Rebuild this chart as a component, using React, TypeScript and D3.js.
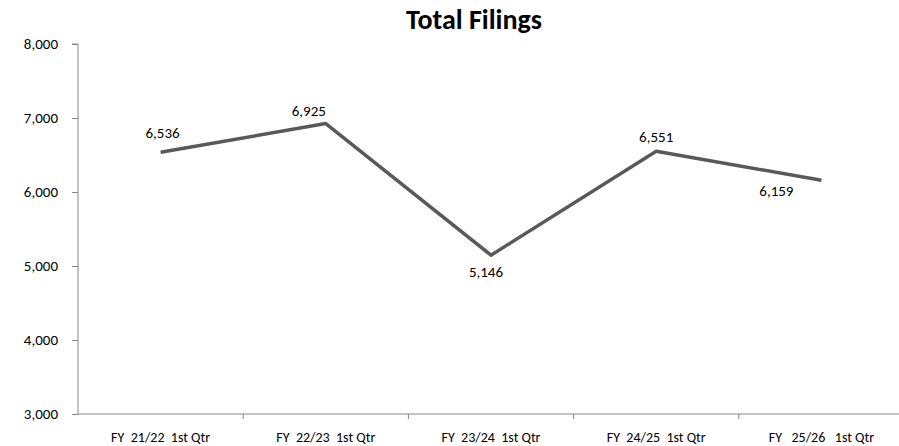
import React, { useEffect, useRef } from "react";
import * as d3 from "d3";

// chart data
const categories = [
  "FY  21/22  1st Qtr",
  "FY  22/23  1st Qtr",
  "FY  23/24  1st Qtr",
  "FY  24/25  1st Qtr",
  "FY   25/26   1st Qtr",
];
const filings = [6536, 6925, 5146, 6551, 6159];
const yTicks = [3000, 4000, 5000, 6000, 7000, 8000];

// where each data label sits relative to its point
const labelPlacement = [
  { dx: 2, dy: -14 },
  { dx: -17, dy: -8 },
  { dx: -5, dy: 22 },
  { dx: 0, dy: -9 },
  { dx: -45, dy: 16 },
];

const App = () => {
  const svgRef = useRef(null);

  useEffect(() => {
    const svg = d3.select(svgRef.current);
    svg.selectAll("*").remove();

    const W = 899;
    const H = 446;
    const left = 78;
    const right = 904;
    const top = 44;
    const bottom = 414;
    const font = "Carlito, 'Liberation Sans', Arial, sans-serif";

    const x = d3.scaleBand().domain(categories).range([left, right]);
    const y = d3.scaleLinear().domain([3000, 8000]).range([bottom, top]);

    svg.attr("width", W).attr("height", H);

    // title
    svg
      .append("text")
      .attr("x", 474)
      .attr("y", 29)
      .attr("text-anchor", "middle")
      .attr("font-family", font)
      .attr("font-weight", "bold")
      .attr("font-size", 28)
      .attr("fill", "#000")
      .text("Total Filings");

    // y axis
    svg
      .append("g")
      .attr("transform", `translate(${left},0)`)
      .call(
        d3
          .axisLeft(y)
          .tickValues(yTicks)
          .tickSize(6)
          .tickPadding(14)
          .tickFormat(d3.format(",")),
      )
      .call((g) => g.select(".domain").attr("stroke", "#888").attr("d", `M-6,${top}H0V${bottom}`))
      .call((g) => g.selectAll(".tick line").attr("stroke", "#888"))
      .call((g) =>
        g
          .selectAll(".tick text")
          .attr("fill", "#000")
          .attr("font-family", font)
          .attr("font-size", 15),
      );

    // x axis
    const tickPositions = categories.map((c) => x(c)).concat([right]);
    const xg = svg.append("g");
    xg.append("line")
      .attr("x1", left)
      .attr("x2", right)
      .attr("y1", bottom)
      .attr("y2", bottom)
      .attr("stroke", "#888");
    xg.selectAll("line.tick")
      .data(tickPositions.slice(1))
      .join("line")
      .attr("class", "tick")
      .attr("x1", (d) => d)
      .attr("x2", (d) => d)
      .attr("y1", bottom)
      .attr("y2", bottom + 5)
      .attr("stroke", "#888");
    xg.selectAll("text")
      .data(categories)
      .join("text")
      .attr("x", (d) => x(d) + x.bandwidth() / 2)
      .attr("y", 442)
      .attr("text-anchor", "middle")
      .attr("font-family", font)
      .attr("font-size", 14)
      .style("white-space", "pre")
      .attr("fill", "#000")
      .text((d) => d);

    // line
    const line = d3
      .line<number>()
      .x((d, i) => x(categories[i]) + x.bandwidth() / 2)
      .y((d) => y(d));

    svg
      .append("path")
      .datum(filings)
      .attr("fill", "none")
      .attr("stroke", "#595959")
      .attr("stroke-width", 3.5)
      .attr("stroke-linejoin", "round")
      .attr("d", line);

    // data labels
    svg
      .append("g")
      .selectAll("text")
      .data(filings)
      .join("text")
      .attr("x", (d, i) => x(categories[i]) + x.bandwidth() / 2 + labelPlacement[i].dx)
      .attr("y", (d, i) => y(d) + labelPlacement[i].dy)
      .attr("text-anchor", "middle")
      .attr("font-family", font)
      .attr("font-size", 15)
      .attr("fill", "#000")
      .text((d) => d3.format(",")(d));
  }, []);

  return (
    <svg
      ref={svgRef}
      style={{ position: "absolute", left: 0, top: 0, background: "#fff" }}
    />
  );
};

export default App;
